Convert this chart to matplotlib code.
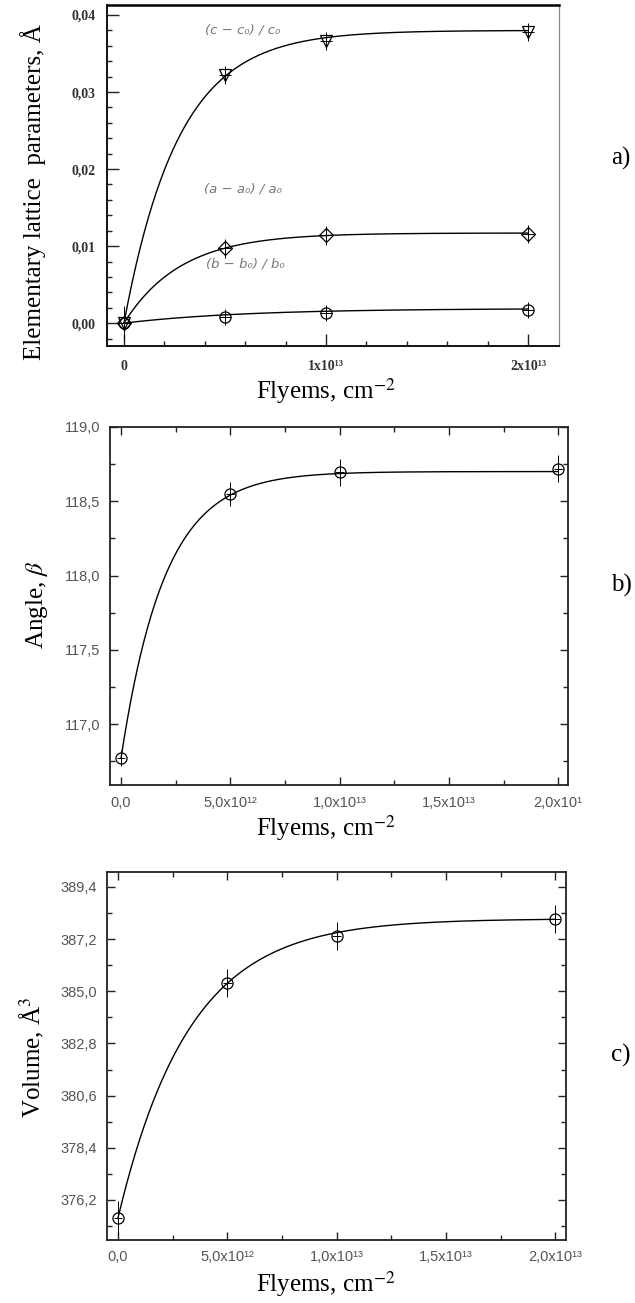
import numpy as np
import matplotlib
matplotlib.use("Agg")
import matplotlib.pyplot as plt
from matplotlib.ticker import MultipleLocator, FixedLocator, FixedFormatter, FuncFormatter

plt.rcParams["mathtext.fontset"] = "stix"

# fluence values, cm^-2
fluence = [0.0, 0.5e13, 1.0e13, 2.0e13]

# a) relative change of lattice parameters
dc = [0.0, 0.0322, 0.0366, 0.0378]
da = [0.0, 0.0097, 0.0114, 0.0116]
db = [0.0, 0.0008, 0.0013, 0.0017]
dc_err = [0.0022, 0.0012, 0.0012, 0.0012]
da_err = [0.0010, 0.0012, 0.0012, 0.0012]
db_err = [0.0008, 0.0010, 0.0010, 0.0010]

# b) monoclinic angle beta
beta = [116.77, 118.547, 118.695, 118.72]
beta_err = [0.055, 0.08, 0.09, 0.09]

# c) cell volume
volume = [375.44, 385.34, 387.33, 388.04]
volume_err = [0.7, 0.6, 0.6, 0.6]

# saturation fit curves: start, amplitude, tau
fit_a = {"c": (0.0, 0.0380, 0.27e13), "a": (0.0, 0.0117, 0.28e13), "b": (0.0, 0.0019, 0.6e13)}
fit_beta = (116.77, 1.93, 0.20e13)
fit_volume = (375.44, 12.62, 0.326e13)

serif = ["Liberation Serif", "DejaVu Serif"]
W, H = 635, 1303


def box(l, t, r, b):
    return [l / W, 1 - b / H, (r - l) / W, (b - t) / H]


def fit_curve(p, x):
    y0, amp, tau = p
    return y0 + amp * (1 - np.exp(-x / tau))


def comma(fmt):
    return FuncFormatter(lambda v, pos: format(v, fmt).replace(".", ","))


fig = plt.figure(figsize=(6.35, 13.03), dpi=100)
xs = np.linspace(0, 2.0e13, 400)

# ---------------- panel a ----------------
ax = fig.add_axes(box(107, 5, 559, 346))
for key, vals, errs, mk, ms in [("c", dc, dc_err, "v", 9), ("a", da, da_err, "D", 7), ("b", db, db_err, "o", 8)]:
    ax.plot(xs, fit_curve(fit_a[key], xs), color="black", lw=1.0)
    ax.errorbar(fluence, vals, yerr=errs, xerr=0.03e13, fmt=mk, ms=ms, mfc="none",
                mec="black", mew=0.9, ecolor="black", elinewidth=0.7, capsize=0)
ax.set_xlim(-0.084e13, 2.153e13)
ax.set_ylim(-0.00297, 0.0413)
ax.xaxis.set_major_locator(FixedLocator([0, 1e13, 2e13]))
ax.xaxis.set_major_formatter(FixedFormatter(["0", "1x10¹³", "2x10¹³"]))
ax.xaxis.set_minor_locator(MultipleLocator(0.2e13))
ax.yaxis.set_major_locator(MultipleLocator(0.01))
ax.yaxis.set_minor_locator(MultipleLocator(0.002))
ax.yaxis.set_major_formatter(comma(".2f"))
ax.tick_params(which="both", direction="in", top=False, right=False, width=1.0, colors="#222")
ax.tick_params(which="major", length=8.5)
ax.tick_params(which="minor", length=3.5)
ax.tick_params(axis="y", pad=8)
ax.tick_params(axis="x", pad=10)
for lab in ax.get_xticklabels() + ax.get_yticklabels():
    lab.set_fontfamily(serif)
    lab.set_fontweight("bold")
    lab.set_fontsize(10)
    lab.set_color("#333")
ax.spines["top"].set_linewidth(1.8)
ax.spines["left"].set_linewidth(1.3)
ax.spines["bottom"].set_linewidth(1.3)
ax.spines["right"].set_color("#888")
ax.spines["right"].set_linewidth(0.9)
ax_txt = dict(fontsize=9.5, style="italic", color="#777", ha="center", va="center", family="DejaVu Sans")
ax.text(0.59e13, 0.0381, "(c − c₀) / c₀", **ax_txt)
ax.text(0.59e13, 0.0174, "(a − a₀) / a₀", **ax_txt)
ax.text(0.60e13, 0.0077, "(b − b₀) / b₀", **ax_txt)

fig.text(33 / W, 1 - 192 / H, "Elementary lattice  parameters, Å", rotation=90,
         ha="center", va="center", fontsize=18, family=serif)
fig.text(326 / W, 1 - 391 / H, "Flyems, cm$^{-2}$", ha="center", va="center", fontsize=18, family=serif)
fig.text(621 / W, 1 - 158 / H, "a)", ha="center", va="center", fontsize=18, family=serif)


def style_sans(ax):
    ax.tick_params(which="both", direction="in", top=True, right=True, width=1.0, colors="#222")
    ax.tick_params(which="major", length=5.5)
    ax.tick_params(which="minor", length=3.5)
    for lab in ax.get_xticklabels() + ax.get_yticklabels():
        lab.set_fontfamily("Liberation Sans")
        lab.set_fontsize(10.5)
        lab.set_color("#555")
    for s in ax.spines.values():
        s.set_linewidth(1.3)
        s.set_color("#222")


x_major = [0, 0.5e13, 1.0e13, 1.5e13, 2.0e13]

# ---------------- panel b ----------------
ax = fig.add_axes(box(110, 427, 568, 785))
ax.plot(xs, fit_curve(fit_beta, xs), color="black", lw=1.0)
ax.errorbar(fluence, beta, yerr=beta_err, xerr=0.02e13, fmt="o", ms=8, mfc="none", mec="black",
            mew=0.9, ecolor="black", elinewidth=0.7, capsize=0)
ax.set_xlim(-0.0503e13, 2.045e13)
ax.set_ylim(116.59, 119.0)
ax.xaxis.set_major_locator(FixedLocator(x_major))
ax.xaxis.set_major_formatter(FixedFormatter(["0,0", "5,0x10¹²", "1,0x10¹³", "1,5x10¹³", "2,0x10¹"]))
ax.xaxis.set_minor_locator(MultipleLocator(0.25e13))
ax.yaxis.set_major_locator(MultipleLocator(0.5))
ax.yaxis.set_minor_locator(MultipleLocator(0.25))
ax.yaxis.set_major_formatter(comma(".1f"))
style_sans(ax)
ax.tick_params(axis="y", pad=7)
ax.tick_params(axis="x", pad=8)
fig.text(37 / W, 1 - 605 / H, r"Angle, $\beta$", rotation=90, ha="center", va="center",
         fontsize=18, family=serif)
fig.text(326 / W, 1 - 828 / H, "Flyems, cm$^{-2}$", ha="center", va="center", fontsize=18, family=serif)
fig.text(621 / W, 1 - 585 / H, "b)", ha="center", va="center", fontsize=18, family=serif)

# ---------------- panel c ----------------
ax = fig.add_axes(box(107, 872, 566, 1240))
ax.plot(xs, fit_curve(fit_volume, xs), color="black", lw=1.0)
ax.errorbar(fluence, volume, yerr=volume_err, xerr=0.02e13, fmt="o", ms=8, mfc="none", mec="black",
            mew=0.9, ecolor="black", elinewidth=0.7, capsize=0)
ax.set_xlim(-0.0503e13, 2.049e13)
ax.set_ylim(374.51, 390.03)
ax.xaxis.set_major_locator(FixedLocator(x_major))
ax.xaxis.set_major_formatter(FixedFormatter(["0,0", "5,0x10¹²", "1,0x10¹³", "1,5x10¹³", "2,0x10¹³"]))
ax.xaxis.set_minor_locator(MultipleLocator(0.25e13))
ax.yaxis.set_major_locator(FixedLocator([376.2, 378.4, 380.6, 382.8, 385.0, 387.2, 389.4]))
ax.yaxis.set_minor_locator(MultipleLocator(1.1))
ax.yaxis.set_major_formatter(comma(".1f"))
style_sans(ax)
ax.tick_params(axis="y", pad=7)
ax.tick_params(axis="x", pad=7)
fig.text(32 / W, 1 - 1057 / H, "Volume, Å$^3$", rotation=90, ha="center", va="center",
         fontsize=18, family=serif)
fig.text(326 / W, 1 - 1284 / H, "Flyems, cm$^{-2}$", ha="center", va="center", fontsize=18, family=serif)
fig.text(621 / W, 1 - 1055 / H, "c)", ha="center", va="center", fontsize=18, family=serif)

fig.savefig("out.png", dpi=100)
